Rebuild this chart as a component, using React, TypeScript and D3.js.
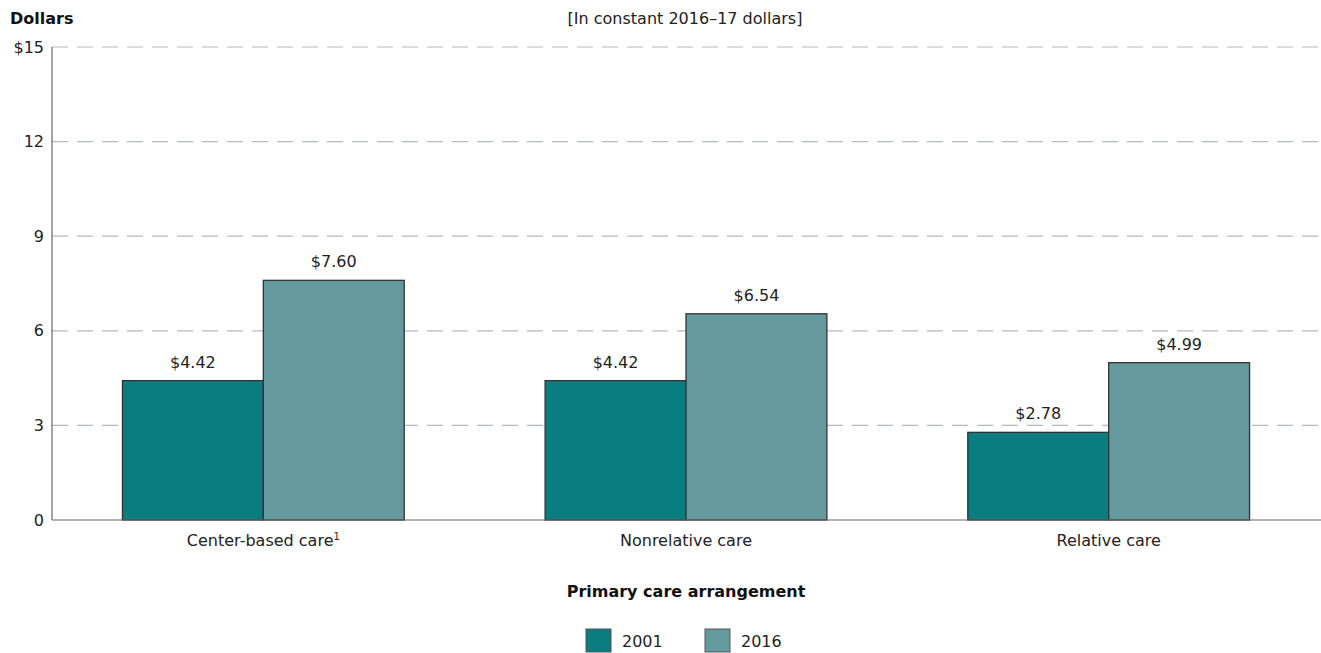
import React from "react";
import * as d3 from "d3";

const categories = ["Center-based care", "Nonrelative care", "Relative care"];
const footnotes = ["1", "", ""];
const series = ["2001", "2016"];
const values2001 = [4.42, 4.42, 2.78];
const values2016 = [7.6, 6.54, 4.99];
const yTicks = [0, 3, 6, 9, 12, 15];
const colors = ["#0a7d80", "#64999e"];

const W = 1321;
const H = 653;
const margin = { left: 52, right: 0, top: 47, bottom: 133 };
const FONT = "'DejaVu Sans', 'Noto Sans', sans-serif";
const FS = 16;

export default function App() {
  const x = d3.scaleBand<string>().domain(categories).range([margin.left, W - 1]).padding(0);
  const y = d3.scaleLinear().domain([0, 15]).range([H - margin.bottom, margin.top]);
  const inner = d3
    .scaleBand<string>()
    .domain(series)
    .range([x.bandwidth() / 6, (x.bandwidth() * 5) / 6])
    .padding(0);
  const data = [values2001, values2016];
  const fmt = (v: number) => "$" + v.toFixed(2);

  return (
    <svg width={W} height={H} style={{ position: "absolute", left: 0, top: 0, background: "#fff" }} fontFamily={FONT}>
      <text x={10} y={24} fontSize={FS} fontWeight="bold" fill="#111">Dollars</text>
      <text x={685} y={24} fontSize={FS} textAnchor="middle" fill="#222">[In constant 2016–17 dollars]</text>
      {yTicks.map((t) => (
        <g key={t}>
          {t > 0 && (
            <line x1={margin.left} x2={W} y1={y(t)} y2={y(t)} stroke="#b4b8c0" strokeWidth={1.2} strokeDasharray="16,9" />
          )}
          <text x={44} y={y(t)} dy="0.35em" fontSize={FS} textAnchor="end" fill="#222">
            {t === 15 ? "$15" : t}
          </text>
        </g>
      ))}
      {categories.map((c, i) => (
        <g key={c}>
          {series.map((s, j) => {
            const v = data[j][i];
            const bx = (x(c) as number) + (inner(s) as number);
            return (
              <g key={s}>
                <rect x={bx} y={y(v)} width={inner.bandwidth()} height={y(0) - y(v)} fill={colors[j]} stroke="#333" strokeWidth={1.3} />
                <text x={bx + inner.bandwidth() / 2} y={y(v) - 13} fontSize={FS} textAnchor="middle" fill="#222">
                  {fmt(v)}
                </text>
              </g>
            );
          })}
          <text x={(x(c) as number) + x.bandwidth() / 2} y={546} fontSize={FS} textAnchor="middle" fill="#222">
            {c}
            {footnotes[i] && (
              <tspan fontSize={10} dy={-6}>{footnotes[i]}</tspan>
            )}
          </text>
        </g>
      ))}
      <line x1={margin.left} x2={margin.left} y1={margin.top} y2={y(0)} stroke="#666" strokeWidth={1.2} />
      <line x1={margin.left} x2={W} y1={y(0)} y2={y(0)} stroke="#666" strokeWidth={1.2} />
      <text x={686} y={597} fontSize={FS} fontWeight="bold" textAnchor="middle" fill="#111">Primary care arrangement</text>
      {series.map((s, j) => (
        <g key={s} transform={`translate(${586 + j * 119},629)`}>
          <rect x={0} y={0} width={25} height={23} fill={colors[j]} stroke="#555" strokeWidth={1} />
          <text x={36} y={18} fontSize={FS} fill="#222">{s}</text>
        </g>
      ))}
    </svg>
  );
}
